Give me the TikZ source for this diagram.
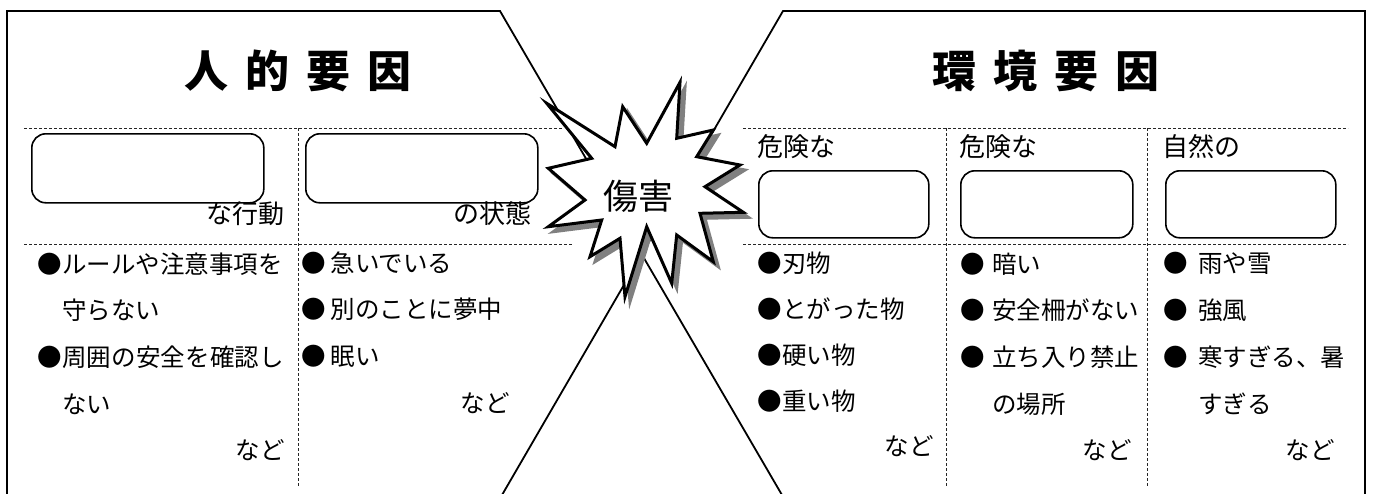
\documentclass[tikz,border=0pt]{standalone}
\usepackage{fontspec}
\setmainfont{Noto Sans CJK JP}
\newcommand\bulx[1]{\makebox[#1][l]{●}}
\begin{document}
\begin{tikzpicture}[x=1pt,y=-1pt,
  frameline/.style={line width=1.8pt, line join=miter},
  dashline/.style={line width=0.8pt, black!85, dash pattern=on 3pt off 2pt},
  blank/.style={draw, line width=1.6pt, rounded corners=14pt, minimum width=#1, minimum height=68pt, inner sep=0pt, anchor=north west},
  jp/.style={inner sep=0pt, text height=0.88em, text depth=0.12em, font=\fontsize{24.5}{24.5}\selectfont},
  lbl/.style={inner sep=0pt, text height=0.88em, text depth=0.12em, font=\fontsize{26}{26}\selectfont},
  titletext/.style={inner sep=0pt, font=\fontsize{44}{44}\selectfont\bfseries},
]
\useasboundingbox (0,0) rectangle (1373,493);

% frame corners
\coordinate (bl) at (7,495);
\coordinate (tl) at (7,11);
\coordinate (tm1) at (500,11);
\coordinate (bm1) at (782,495);
\coordinate (br) at (1365,495);
\coordinate (tr) at (1365,11);
\coordinate (tm2) at (783,11);
\coordinate (bm2) at (502,495);

\draw[frameline] (bl) -- (tl) -- (tm1) -- (bm1);
\draw[frameline] (br) -- (tr) -- (tm2) -- (bm2);

% titles
\node[titletext] (t1) at (298,71) {人\hspace{17pt}的\hspace{17pt}要\hspace{17pt}因};
\node[titletext] (t2) at (1046,71) {環\hspace{17pt}境\hspace{17pt}要\hspace{17pt}因};

% dashed grid
\coordinate (d1a) at (24,128);  \coordinate (d1b) at (563,128);
\coordinate (d2a) at (24,244);  \coordinate (d2b) at (572,244);
\coordinate (d3a) at (743,128); \coordinate (d3b) at (1348,128);
\coordinate (d4a) at (743,244); \coordinate (d4b) at (1348,244);
\coordinate (v1a) at (298,128); \coordinate (v1b) at (298,486);
\coordinate (v2a) at (946,128); \coordinate (v2b) at (946,486);
\coordinate (v3a) at (1147,128); \coordinate (v3b) at (1147,486);
\draw[dashline] (d1a) -- (d1b);
\draw[dashline] (d2a) -- (d2b);
\draw[dashline] (d3a) -- (d3b);
\draw[dashline] (d4a) -- (d4b);
\draw[dashline] (v1a) -- (v1b);
\draw[dashline] (v2a) -- (v2b);
\draw[dashline] (v3a) -- (v3b);

% blank boxes
\node[blank=232pt, minimum height=69pt] (b1) at (31,133) {};
\node[blank=232pt, minimum height=69pt] (b2) at (305,133) {};
\node[blank=170pt, minimum height=67pt] (b3) at (758,170) {};
\node[blank=172pt, minimum height=67pt] (b4) at (960,170) {};
\node[blank=170pt, minimum height=67pt] (b5) at (1165,170) {};

% labels
\node[lbl, anchor=east] (n1) at (285,220) {な行動};
\node[lbl, anchor=east] (n2) at (532,220) {の状態};
\node[lbl, anchor=west] (n3) at (757,153) {危険な};
\node[lbl, anchor=west] (n4) at (959,153) {危険な};
\node[lbl, anchor=west] (n5) at (1162,153) {自然の};

% column 1
\node[jp, anchor=west] (c1a) at (37.5,270) {\bulx{24.5pt}\makebox[219pt][s]{ル\hfill ー\hfill ル\hfill や\hfill 注\hfill 意\hfill 事\hfill 項\hfill を}};
\node[jp, anchor=west] (c1b) at (62,316) {守らない};
\node[jp, anchor=west] (c1c) at (37.5,363) {\bulx{24.5pt}\makebox[222pt][s]{周\hfill 囲\hfill の\hfill 安\hfill 全\hfill を\hfill 確\hfill 認\hfill し}};
\node[jp, anchor=west] (c1d) at (62,410) {ない};
\node[jp, anchor=east] (c1e) at (285,456) {など};
% column 2
\node[jp, anchor=west] (c2a) at (301,269) {\bulx{29.5pt}急いでいる};
\node[jp, anchor=west] (c2b) at (301,315) {\bulx{29.5pt}別のことに夢中};
\node[jp, anchor=west] (c2c) at (301,362) {\bulx{29.5pt}眠い};
\node[jp, anchor=east] (c2d) at (510,409) {など};
% column 3
\node[jp, anchor=west] (c3a) at (757.5,269) {\bulx{24.5pt}刃物};
\node[jp, anchor=west] (c3b) at (757.5,315) {\bulx{24.5pt}とがった物};
\node[jp, anchor=west] (c3c) at (757.5,361) {\bulx{24.5pt}硬い物};
\node[jp, anchor=west] (c3d) at (757.5,407) {\bulx{24.5pt}重い物};
\node[jp, anchor=east] (c3e) at (934,452) {など};
% column 4
\node[jp, anchor=west] (c4a) at (960,270) {\bulx{32pt}暗い};
\node[jp, anchor=west] (c4b) at (960,316) {\bulx{32pt}安全柵がない};
\node[jp, anchor=west] (c4c) at (960,363) {\bulx{32pt}立ち入り禁止};
\node[jp, anchor=west] (c4d) at (992,410) {の場所};
\node[jp, anchor=east] (c4e) at (1132,456) {など};
% column 5
\node[jp, anchor=west] (c5a) at (1163,269) {\bulx{35pt}雨や雪};
\node[jp, anchor=west] (c5b) at (1163,316) {\bulx{35pt}強風};
\node[jp, anchor=west] (c5c) at (1163,363) {\bulx{35pt}寒すぎる、暑};
\node[jp, anchor=west] (c5d) at (1198,410) {すぎる};
\node[jp, anchor=east] (c5e) at (1335,456) {など};

% star
\def\starpath{(546.7,103.3) -- (615,146.7) -- (622.7,106.7) -- (646.7,143.3) -- (680,82.3) -- (676.7,138.3) -- (713.3,130) -- (696.7,156.7) -- (740,165) -- (705,186.7) -- (743.3,212.3) -- (700,213.3) -- (713.3,261.7) -- (676.7,235) -- (671.7,283.3) -- (646.7,226.7) -- (625,296.7) -- (620,238.3) -- (590,256.7) -- (601.7,220) -- (548.3,226.7) -- (585,200) -- (548.3,168.3) -- (591.7,158.3) -- cycle}
\begin{scope}[shift={(5,5)}]
  \filldraw[fill=black!50, draw=black!50, line width=3pt, line join=miter] \starpath;
\end{scope}
\filldraw[fill=white, draw=black, line width=3pt, line join=miter] \starpath;
\node[inner sep=0pt, font=\fontsize{35}{35}\selectfont] (hz) at (638,196) {傷害};
\end{tikzpicture}
\end{document}
